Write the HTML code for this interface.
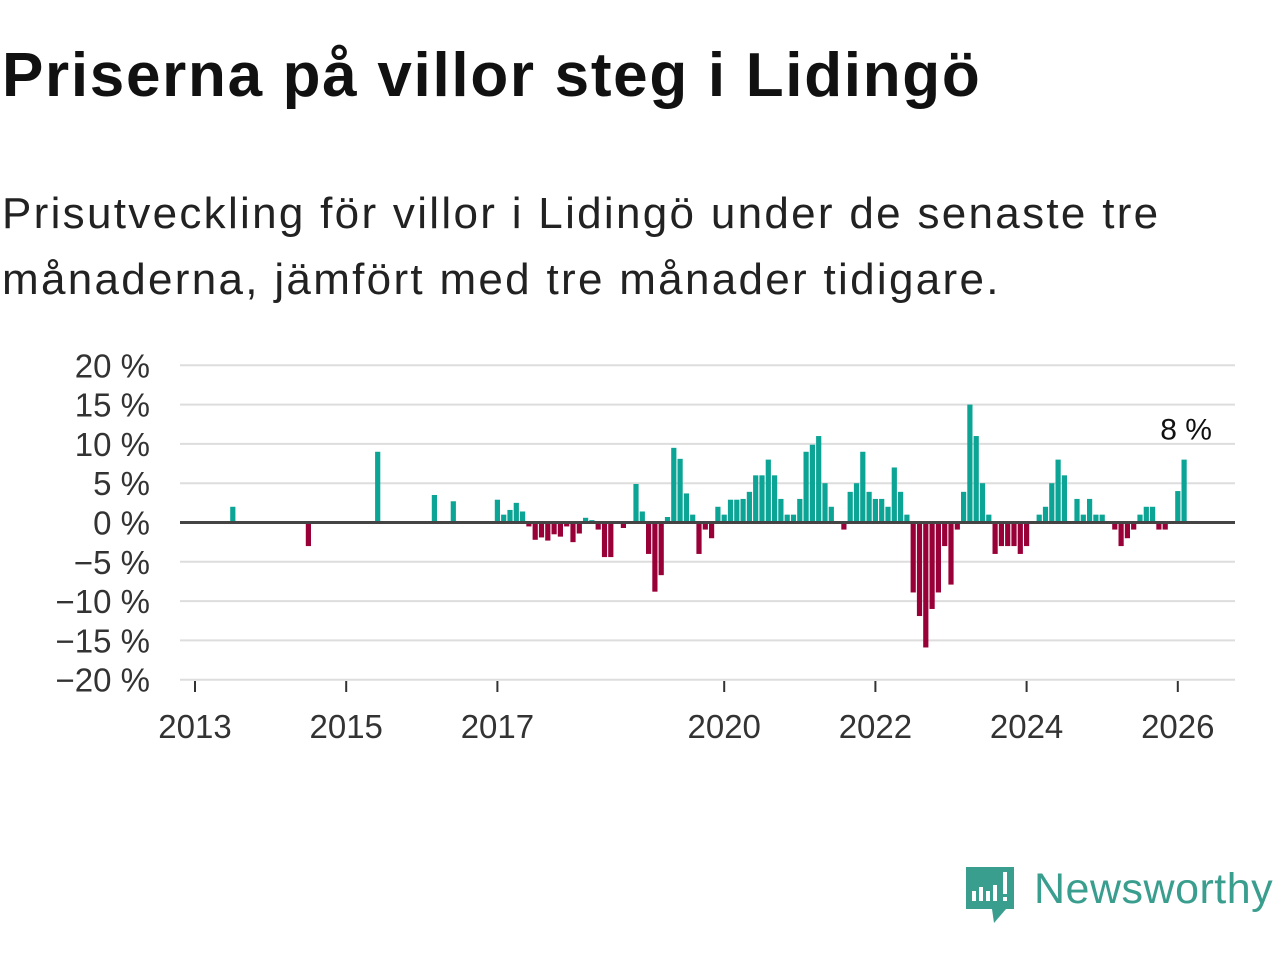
<!DOCTYPE html>
<html><head><meta charset="utf-8">
<style>
body{margin:0;width:1280px;height:960px;background:#fff;font-family:"Liberation Sans","DejaVu Sans",sans-serif;overflow:hidden;position:relative}
#title{position:absolute;left:2px;top:40px;font-size:62px;font-weight:bold;color:#111;margin:0;letter-spacing:1.7px}
#sub{position:absolute;left:2px;top:181px;font-size:44px;letter-spacing:2.3px;color:#222;line-height:66px;width:1200px}
svg{position:absolute;left:0;top:0}
</style></head><body>
<h1 id="title">Priserna på villor steg i Lidingö</h1>
<div id="sub">Prisutveckling för villor i Lidingö under de senaste tre<br>månaderna, jämfört med tre månader tidigare.</div>
<svg id="chart" width="1280" height="960"></svg>
<svg width="1280" height="960" style="pointer-events:none">
<path d="M966 867 h48 v42 h-8 l-12 14 -2 -14 h-26 z" fill="#3a9e8f"/>
<g fill="#fff"><rect x="972" y="891" width="4" height="10"/><rect x="979" y="887" width="4" height="14"/><rect x="986" y="891" width="4" height="10"/><rect x="993" y="885" width="4" height="16"/><rect x="1003" y="872" width="4" height="22"/><rect x="1003" y="897" width="4" height="4"/></g>
<text x="1034" y="903" font-size="43" letter-spacing="0.5" fill="#3a9e8f" font-family="Liberation Sans, sans-serif">Newsworthy</text>
</svg>
<script>
const startYear = 2013;
const months = [6,18,29,38,41,48,49,50,51,52,53,54,55,56,57,58,59,60,61,62,63,64,65,66,68,70,71,72,73,74,75,76,77,78,79,80,81,82,83,84,85,86,87,88,89,90,91,92,93,94,95,96,97,98,99,100,101,103,104,105,106,107,108,109,110,111,112,113,114,115,116,117,118,119,120,121,122,123,124,125,126,127,128,129,130,131,132,134,135,136,137,138,140,141,142,143,144,146,147,148,149,150,151,152,153,154,156,157];
const values = [2,-3,9,3.5,2.7,2.9,1,1.6,2.5,1.4,-0.5,-2.2,-1.9,-2.3,-1.5,-1.8,-0.5,-2.5,-1.4,0.6,0.3,-0.9,-4.4,-4.4,-0.7,4.9,1.4,-4,-8.8,-6.7,0.7,9.5,8.1,3.7,1,-4,-0.9,-2,2,1,2.9,2.9,3,3.9,6,6,8,6,3,1,1,3,9,9.9,11,5,2,-0.9,3.9,5,9,3.9,3,3,2,7,3.9,1,-8.9,-11.9,-15.9,-11,-8.9,-3,-7.9,-0.9,3.9,15,11,5,1,-4,-3,-3,-3,-4,-3,1,2,5,8,6,3,1,3,1,1,-0.9,-3,-2,-0.9,1,2,2,-0.9,-0.9,4,8];
const yTicks = [20,15,10,5,0,-5,-10,-15,-20];
const xTickYears = [2013,2015,2017,2020,2022,2024,2026];
const lastLabel = "8 %";
const NS="http://www.w3.org/2000/svg";
const svg=document.getElementById('chart');
const x0=195, pxPerMonth=75.6/12;
function xScale(m){return x0+m*pxPerMonth;}
function yScale(v){return 522.5-v*7.86;}
function mk(tag,attrs){const e=document.createElementNS(NS,tag);for(const k in attrs)e.setAttribute(k,attrs[k]);svg.appendChild(e);return e;}
yTicks.forEach(t=>{
  const g=mk('line',{x1:180,x2:1235,y1:yScale(t),y2:yScale(t),stroke:'#ddd','stroke-width':2});
  
  
  const tx=mk('text',{x:150,y:yScale(t)+12,'text-anchor':'end','font-size':33,fill:'#333'});
  tx.textContent=(t<0?'\u2212'+(-t):t)+' %';
  
  
});
months.forEach((m,i)=>{
  const v=values[i];
  const r=mk('rect',{x:xScale(m)-2.6,width:5.2,y:Math.min(yScale(v),yScale(0)),height:Math.abs(yScale(v)-yScale(0)),fill:v>=0?'#0ca495':'#9a0038'});
  
  
});
const z=mk('line',{x1:180,x2:1235,y1:yScale(0),y2:yScale(0),stroke:'#444','stroke-width':3});


xTickYears.forEach(yr=>{
  const x=xScale((yr-startYear)*12);
  const l=mk('line',{x1:x,x2:x,y1:681,y2:692,stroke:'#333','stroke-width':2});
  
  
  const t=mk('text',{x:x,y:738,'text-anchor':'middle','font-size':33,fill:'#333'});
  t.textContent=yr;
  
  
});
const lm=months[months.length-1], lv=values[values.length-1];
const lab=mk('text',{x:xScale(lm)+2,y:yScale(lv)-20,'text-anchor':'middle','font-size':30,fill:'#111'});
lab.textContent=lastLabel;


</script>
</body></html>
